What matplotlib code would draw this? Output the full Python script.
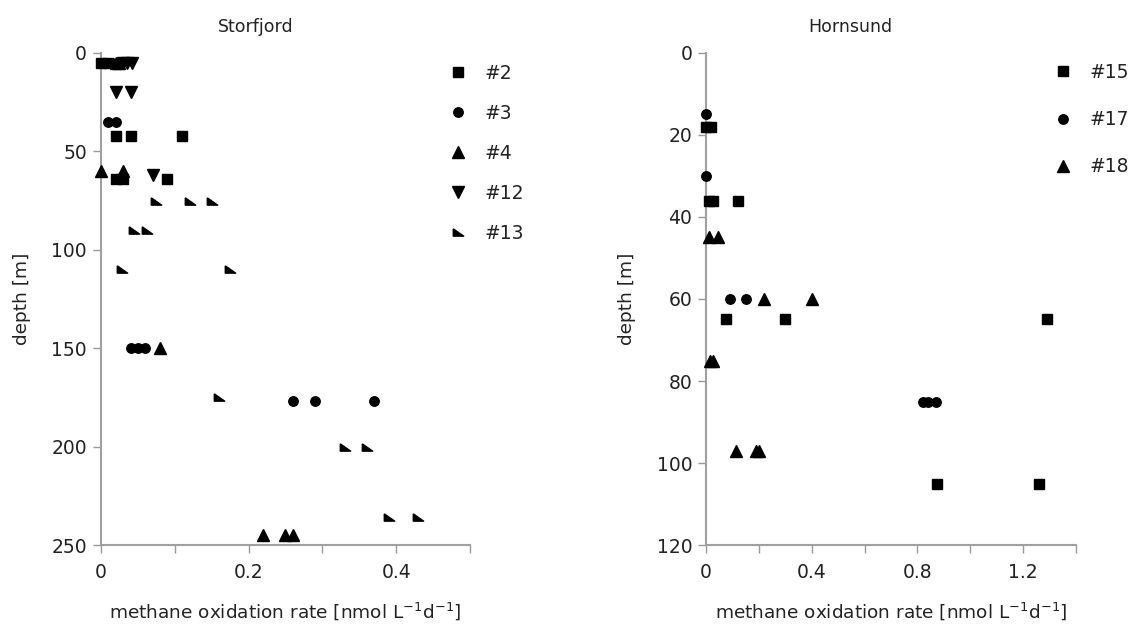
import matplotlib
matplotlib.use("Agg")
import matplotlib.pyplot as plt

# ---- Data ----
# Storfjord stations: methane oxidation rate [nmol/L/d] vs depth [m]
st2_rate = [0.0, 0.01, 0.02, 0.04, 0.11, 0.02, 0.03, 0.09]
st2_depth = [5, 5, 42, 42, 42, 64, 64, 64]
st3_rate = [0.005, 0.015, 0.01, 0.02, 0.04, 0.05, 0.06, 0.26, 0.29, 0.37]
st3_depth = [5, 5, 35, 35, 150, 150, 150, 177, 177, 177]
st4_rate = [0.02, 0.025, 0.0, 0.03, 0.08, 0.22, 0.25, 0.26]
st4_depth = [5, 5, 60, 60, 150, 245, 245, 245]
st12_rate = [0.03, 0.035, 0.042, 0.02, 0.04, 0.07]
st12_depth = [5, 5, 5, 20, 20, 62]
st13_rate = [0.075, 0.12, 0.15, 0.045, 0.062, 0.028, 0.175, 0.16, 0.33, 0.36, 0.39, 0.43]
st13_depth = [75, 75, 75, 90, 90, 110, 110, 175, 200, 200, 236, 236]

# Hornsund stations
h15_rate = [0.0, 0.02, 0.01, 0.025, 0.12, 0.075, 0.30, 1.29, 0.875, 1.26]
h15_depth = [18, 18, 36, 36, 36, 65, 65, 65, 105, 105]
h17_rate = [0.0, 0.0, 0.09, 0.15, 0.82, 0.84, 0.87]
h17_depth = [15, 30, 60, 60, 85, 85, 85]
h18_rate = [0.01, 0.045, 0.22, 0.40, 0.015, 0.027, 0.115, 0.19, 0.2]
h18_depth = [45, 45, 60, 60, 75, 75, 97, 97, 97]

left_xticks = [0, 0.1, 0.2, 0.3, 0.4, 0.5]
left_xlabels = ["0", "", "0.2", "", "0.4", ""]
left_yticks = [0, 50, 100, 150, 200, 250]
right_xticks = [0, 0.2, 0.4, 0.6, 0.8, 1.0, 1.2, 1.4]
right_xlabels = ["0", "", "0.4", "", "0.8", "", "1.2", ""]
right_yticks = [0, 20, 40, 60, 80, 100, 120]

# ---- Style ----
plt.rcParams.update({
    "font.family": "DejaVu Sans",
    "text.color": "#222222",
    "axes.labelcolor": "#222222",
    "xtick.color": "#999999",
    "ytick.color": "#999999",
    "xtick.labelcolor": "#222222",
    "ytick.labelcolor": "#222222",
})

TICK_FS = 13.5
LABEL_FS = 13.3
SPINE = "#a0a0a0"
corner = [(-1, 0.7), (-1, -0.7), (1, -0.7), (-1, 0.7)]  # lower-left right triangle


def style_axes(ax, xticks, xlabels, yticks, xmax, ymax):
    ax.set_xlim(0, xmax)
    ax.set_ylim(ymax, 0)
    for s in ["top", "right"]:
        ax.spines[s].set_visible(False)
    for s in ["left", "bottom"]:
        ax.spines[s].set_color(SPINE)
        ax.spines[s].set_linewidth(1.5)
    ax.set_xticks(xticks)
    ax.set_xticklabels(xlabels)
    ax.set_yticks(yticks)
    ax.tick_params(axis="both", direction="out", length=6, width=1, labelsize=TICK_FS)
    ax.tick_params(axis="x", pad=7)
    ax.tick_params(axis="y", pad=4)
    ax.set_xlabel(r"methane oxidation rate [nmol L$^{\mathregular{-1}}$d$^{\mathregular{-1}}$]",
                  fontsize=LABEL_FS, labelpad=13)
    ax.set_ylabel("depth [m]", fontsize=LABEL_FS)


fig = plt.figure(figsize=(11.36, 6.3), dpi=100)
ax1 = fig.add_axes([0.0889, 0.1349, 0.3248, 0.781])
ax2 = fig.add_axes([0.6215, 0.1349, 0.3257, 0.781])

kw = dict(color="black", linestyle="none", clip_on=False, zorder=5)
ax1.plot(st2_rate, st2_depth, marker="s", markersize=7.5, label="#2", **kw)
ax1.plot(st3_rate, st3_depth, marker="o", markersize=6.8, label="#3", **kw)
ax1.plot(st4_rate, st4_depth, marker="^", markersize=8, label="#4", **kw)
ax1.plot(st12_rate, st12_depth, marker="v", markersize=8, label="#12", **kw)
ax1.plot(st13_rate, st13_depth, marker=corner, markersize=7.5, label="#13", **kw)
style_axes(ax1, left_xticks, left_xlabels, left_yticks, 0.5, 250)

ax2.plot(h15_rate, h15_depth, marker="s", markersize=7.5, label="#15", **kw)
ax2.plot(h17_rate, h17_depth, marker="o", markersize=6.8, label="#17", **kw)
ax2.plot(h18_rate, h18_depth, marker="^", markersize=8, label="#18", **kw)
style_axes(ax2, right_xticks, right_xlabels, right_yticks, 1.4, 120)

ax1.yaxis.set_label_coords(-0.19, 0.5)
ax2.yaxis.set_label_coords(-0.19, 0.5)

fig.text(256 / 1136, 1 - 27 / 630, "Storfjord", ha="center", va="center", fontsize=12.5)
fig.text(850 / 1136, 1 - 27 / 630, "Hornsund", ha="center", va="center", fontsize=12.5)

leg_kw = dict(frameon=False, loc="upper left", bbox_transform=fig.transFigure,
              numpoints=1, handlelength=1.0, handletextpad=0.9, borderpad=0,
              borderaxespad=0, fontsize=TICK_FS)
ax1.legend(bbox_to_anchor=(449 / 1136, 1 - 64 / 630), labelspacing=1.12, **leg_kw)
ax2.legend(bbox_to_anchor=(1054 / 1136, 1 - 63 / 630), labelspacing=1.5, **leg_kw)

fig.savefig("out.png", dpi=100)
